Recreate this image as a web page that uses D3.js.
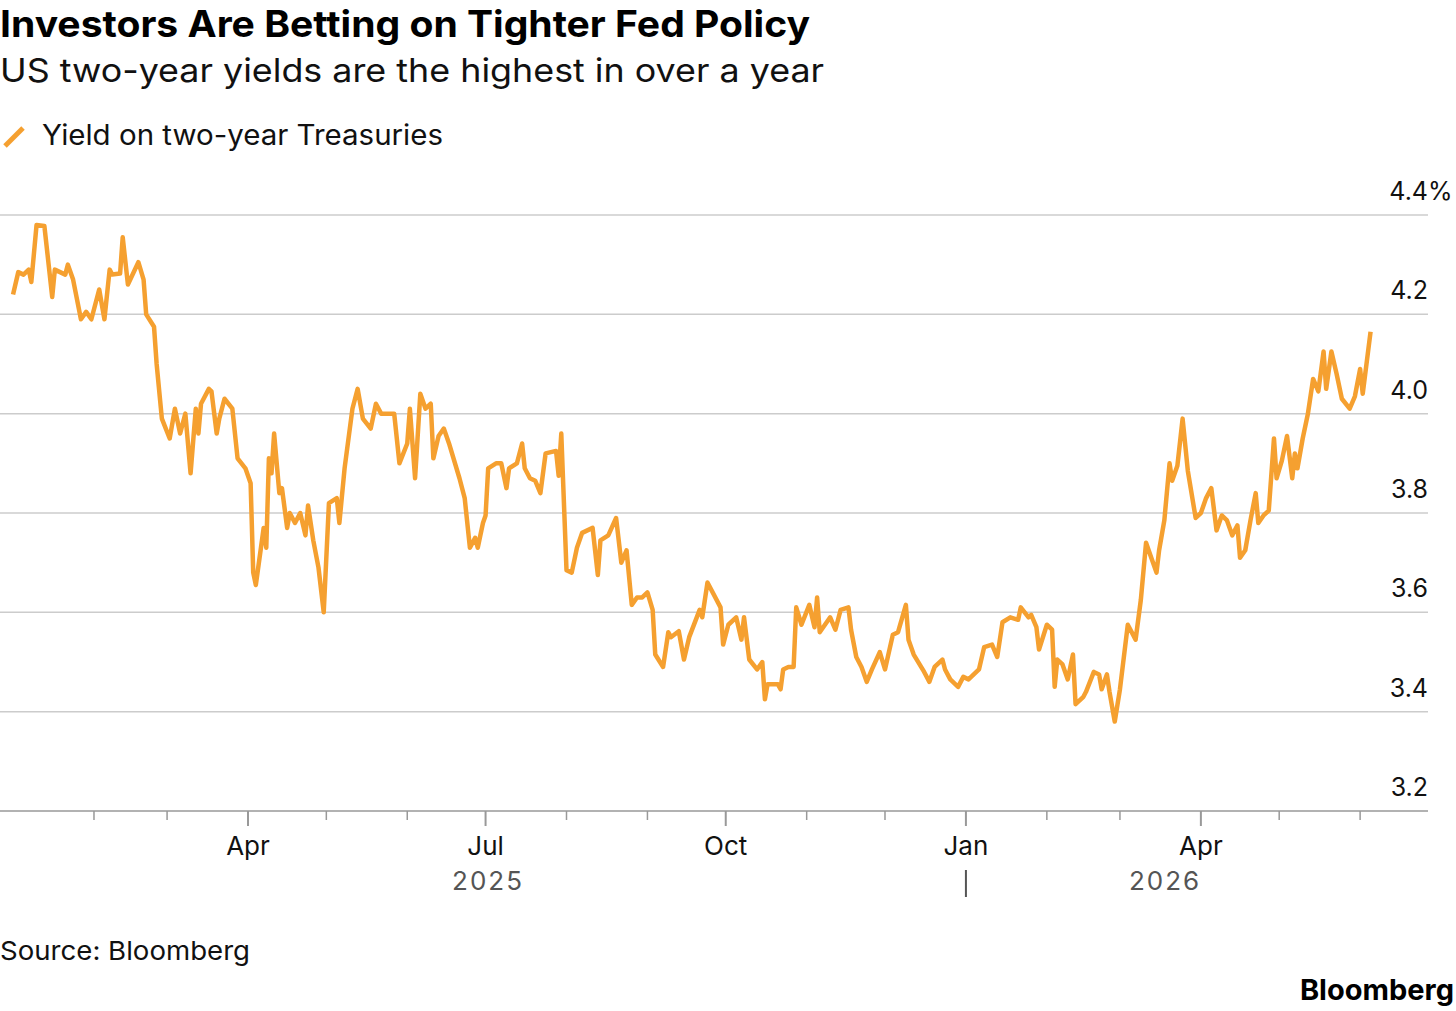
<!DOCTYPE html>
<html><head><meta charset="utf-8">
<script src="https://cdn.jsdelivr.net/npm/d3@7"></script>
<style>
body{margin:0;background:#fff;font-family:Inter,"Noto Sans",sans-serif;}
</style></head>
<body><svg id="chart" width="1456" height="1011"></svg>
<script>
// days after 2025-01-01, and two-year yield (%)
const dayOffsets = [0,2,4,6,7,9,12,15,16,20,21,23,26,28,30,33,35,37,38,41,42,44,48,50,51,54,55,57,60,62,64,66,68,70,71,72,75,76,78,79,81,84,86,89,91,92,93,96,97,98,99,100,102,103,105,106,108,110,112,113,115,117,119,121,124,125,127,130,132,134,137,139,141,146,148,151,152,154,156,158,160,161,163,165,167,171,173,175,177,178,180,181,182,185,187,189,190,193,195,196,198,200,202,204,208,209,210,212,214,216,218,222,224,225,228,231,233,235,237,239,241,243,245,246,249,251,252,255,257,259,263,264,266,271,272,274,277,279,280,282,285,287,288,289,293,294,295,297,299,300,302,305,307,308,309,313,315,317,320,321,323,325,327,329,332,334,337,339,342,343,345,349,351,353,356,357,359,362,364,366,370,372,375,377,379,382,385,386,389,390,392,393,396,398,399,400,402,404,406,407,410,411,414,416,417,419,420,422,424,427,430,432,434,436,438,439,441,443,444,446,448,450,453,455,457,459,461,463,465,467,469,470,472,474,476,477,479,481,483,484,486,488,490,491,492,494,496,498,500,502,503,505,507,509,512,514,516,517,520];
const yields = [4.24,4.285,4.28,4.29,4.265,4.38,4.378,4.235,4.29,4.28,4.30,4.27,4.19,4.205,4.19,4.25,4.19,4.29,4.28,4.282,4.355,4.26,4.305,4.27,4.20,4.175,4.10,3.99,3.95,4.01,3.96,4.0,3.88,4.01,3.96,4.02,4.05,4.045,3.96,3.99,4.03,4.01,3.91,3.89,3.86,3.68,3.655,3.77,3.73,3.91,3.88,3.96,3.84,3.85,3.77,3.80,3.78,3.80,3.755,3.815,3.745,3.69,3.60,3.82,3.83,3.78,3.89,4.01,4.05,3.99,3.97,4.02,4.0,4.0,3.90,3.94,4.01,3.87,4.04,4.01,4.02,3.91,3.955,3.97,3.94,3.87,3.83,3.73,3.75,3.73,3.78,3.795,3.89,3.90,3.90,3.85,3.89,3.90,3.94,3.89,3.87,3.865,3.84,3.92,3.925,3.875,3.96,3.685,3.68,3.73,3.76,3.77,3.675,3.745,3.755,3.79,3.70,3.725,3.615,3.63,3.63,3.64,3.605,3.515,3.49,3.56,3.55,3.562,3.505,3.55,3.605,3.59,3.66,3.61,3.535,3.575,3.59,3.545,3.59,3.505,3.485,3.50,3.425,3.455,3.455,3.445,3.485,3.49,3.49,3.61,3.575,3.615,3.57,3.63,3.56,3.59,3.565,3.605,3.61,3.565,3.51,3.49,3.46,3.485,3.52,3.485,3.555,3.56,3.615,3.545,3.515,3.48,3.46,3.49,3.505,3.485,3.465,3.45,3.47,3.465,3.485,3.53,3.535,3.51,3.58,3.59,3.585,3.61,3.59,3.595,3.57,3.525,3.575,3.565,3.45,3.505,3.495,3.465,3.515,3.415,3.43,3.44,3.48,3.475,3.445,3.475,3.44,3.38,3.445,3.575,3.545,3.625,3.74,3.71,3.68,3.725,3.785,3.90,3.865,3.895,3.99,3.885,3.79,3.80,3.83,3.85,3.765,3.795,3.785,3.755,3.775,3.71,3.725,3.785,3.84,3.78,3.795,3.805,3.95,3.87,3.905,3.955,3.87,3.92,3.89,3.95,4.0,4.07,4.045,4.125,4.05,4.125,4.08,4.03,4.01,4.035,4.09,4.04,4.165];
const yTicks = [3.2,3.4,3.6,3.8,4.0,4.2,4.4];
const quarterLabels = ["Apr","Jul","Oct","Jan","Apr"];

const svg = d3.select("#chart");
const addDays = n => new Date(2025,0,1+n);
const data = dayOffsets.map((d,i) => ({date: addDays(d), v: yields[i]}));

let width = 1428;
let x = d3.scaleTime().domain([addDays(-5), addDays(542)]).range([0, width]);
let y = d3.scaleLinear().domain([3.2,4.4]).range([811,215]);

// Titles
svg.append("text").attr("x",0).attr("y",37).attr("font-size",37).attr("font-weight",700)
  .attr("textLength",810).attr("lengthAdjust","spacingAndGlyphs").text("Investors Are Betting on Tighter Fed Policy");
svg.append("text").attr("x",0).attr("y",82).attr("font-size",33).attr("fill","#111")
  .attr("textLength",824).attr("lengthAdjust","spacingAndGlyphs").text("US two-year yields are the highest in over a year");
svg.append("line").attr("x1",5).attr("y1",146).attr("x2",23).attr("y2",128)
  .attr("stroke","#f5a030").attr("stroke-width",5);
svg.append("text").attr("x",42).attr("y",145).attr("font-size",28).attr("fill","#111")
  .attr("textLength",401).attr("lengthAdjust","spacingAndGlyphs").text("Yield on two-year Treasuries");

// Grid + y labels
yTicks.forEach(t => {
  if (t > 3.2) svg.append("line").attr("x1",0).attr("x2",width).attr("y1",y(t)).attr("y2",y(t))
    .attr("stroke","#cccccc").attr("stroke-width",1.5);
  svg.append("text").attr("x",1428).attr("y",y(t)-15).attr("text-anchor","end")
    .attr("font-size",25).attr("fill","#111").text(t.toFixed(1));
});
svg.append("text").attr("x",1428).attr("y",y(4.4)-15).attr("font-size",25).attr("fill","#111").text("%");

// X axis
svg.append("line").attr("x1",0).attr("x2",width).attr("y1",811).attr("y2",811)
  .attr("stroke","#999").attr("stroke-width",1.5);
const months = d3.timeMonth.range(new Date(2025,1,1), new Date(2026,6,1));
let qi = 0;
months.forEach(m => {
  const major = m.getMonth() % 3 === 0;
  svg.append("line").attr("x1",x(m)).attr("x2",x(m)).attr("y1",811).attr("y2",major?826:820)
    .attr("stroke","#999").attr("stroke-width",major?2:1.5);
  if (major) {
    svg.append("text").attr("x",x(m)).attr("y",855).attr("text-anchor","middle")
      .attr("font-size",26).attr("fill","#111").text(quarterLabels[qi++]);
  }
});
svg.append("text").attr("x",488).attr("y",890).attr("text-anchor","middle").attr("font-size",26)
  .attr("fill","#555").attr("letter-spacing",2).text("2025");
svg.append("text").attr("x",1165).attr("y",890).attr("text-anchor","middle").attr("font-size",26)
  .attr("fill","#555").attr("letter-spacing",2).text("2026");
svg.append("line").attr("x1",x(new Date(2026,0,1))).attr("x2",x(new Date(2026,0,1)))
  .attr("y1",870).attr("y2",897).attr("stroke","#555").attr("stroke-width",2);

// Line
let line = d3.line().x(d => x(d.date)).y(d => y(d.v));
svg.append("path").attr("d", line(data)).attr("fill","none")
  .attr("stroke","#f5a030").attr("stroke-width",4.5).attr("stroke-linejoin","round");

// Footer
svg.append("text").attr("x",0).attr("y",960).attr("font-size",26).attr("fill","#111")
  .attr("textLength",250).attr("lengthAdjust","spacingAndGlyphs").text("Source: Bloomberg");
svg.append("text").attr("x",1454).attr("y",1000).attr("text-anchor","end").attr("font-size",29)
  .attr("font-weight",700).text("Bloomberg");
</script></body></html>
